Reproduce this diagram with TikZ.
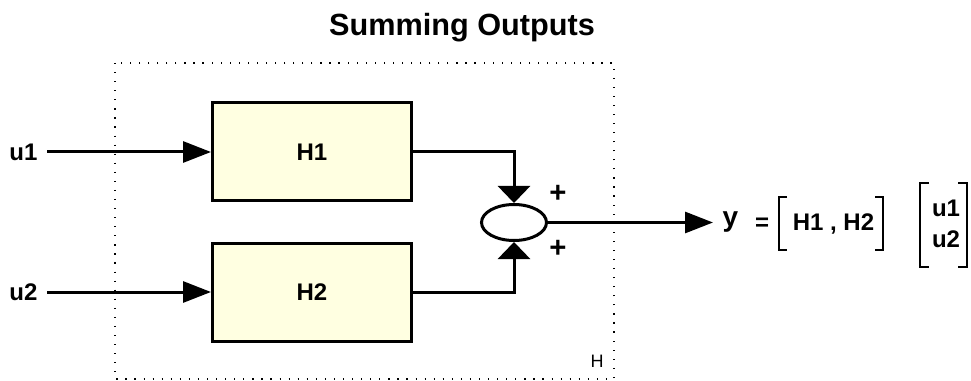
\documentclass[tikz,border=0pt]{standalone}
\usepackage{fontspec}
\setmainfont{Liberation Sans}
\usetikzlibrary{arrows.meta,shapes.geometric}
\definecolor{blockfill}{RGB}{255,255,225}
\tikzset{
  block/.style={draw=black, fill=blockfill, line width=2.25pt, minimum width=149.25pt, minimum height=73.5pt, inner sep=0pt, font=\bfseries\fontsize{18}{21}\selectfont},
  sumnode/.style={draw=black, ellipse, line width=2.25pt, minimum width=48.75pt, minimum height=27pt, inner sep=0pt},
  sig/.style={inner xsep=7pt, inner ysep=0pt, text depth=0pt, font=\bfseries\fontsize{18}{21}\selectfont},
  lbl/.style={inner sep=0pt, text depth=0pt, font=\bfseries\fontsize{18}{21}\selectfont},
  sign/.style={inner sep=0pt, font=\bfseries\fontsize{22}{24}\selectfont},
  arrowh/.style={-{Triangle[length=21pt,width=15.75pt]}, line width=2.25pt},
  arrowv/.style={-{Triangle[length=12.75pt,width=24pt]}, line width=2.25pt},
  frame/.style={line width=0.9pt, dash pattern=on 0.9pt off 5.9pt},
  brk/.style={line width=1.5pt}
}
\begin{document}
\begin{tikzpicture}[x=0.75pt,y=-0.75pt]
\useasboundingbox (0,0) rectangle (971,381);
\node[font=\bfseries\fontsize{23}{27}\selectfont, inner sep=0pt, text depth=0pt] (title) at (462,24) {Summing Outputs};
% subsystem frame
\draw[frame] (115,63) rectangle (614,379);
\node[font=\fontsize{13.5}{16}\selectfont, inner sep=0pt, text depth=0pt] (hname) at (597,361.5) {H};
\node[block] (h1) at (312,152) {H1};
\node[block] (h2) at (312,292) {H2};
\node[sumnode] (sum) at (514,222.5) {};
\node[sign] (p1) at (558,194) {+};
\node[sign] (p2) at (558,249) {+};
\node[sig, anchor=east] (u1) at (47,152) {u1};
\node[sig, anchor=east] (u2) at (47,292) {u2};
\draw[arrowh] (u1) -- (h1);
\draw[arrowh] (u2) -- (h2);
\draw[arrowv] (h1) -| (sum);
\draw[arrowv] (h2) -| (sum);
\node[sig, anchor=west, font=\bfseries\fontsize{21}{24}\selectfont] (yout) at (713,219) {y};
\draw[arrowh] (sum) -- (yout.west |- sum);
% y = [H1 , H2] [u1 ; u2]
\node[lbl] (eq) at (762,224) {=};
\node[lbl] (hrow) at (833.5,222.5) {H1 , H2};
\node[lbl] (uc1) at (946,208.5) {u1};
\node[lbl] (uc2) at (946,239.5) {u2};
\draw[brk] (787,197) -- (779,197) -- (779,250) -- (787,250);
\draw[brk] (875,197) -- (883,197) -- (883,250) -- (875,250);
\draw[brk] (929,183) -- (920,183) -- (920,267) -- (929,267);
\draw[brk] (958,183) -- (967,183) -- (967,267) -- (958,267);
\end{tikzpicture}
\end{document}
